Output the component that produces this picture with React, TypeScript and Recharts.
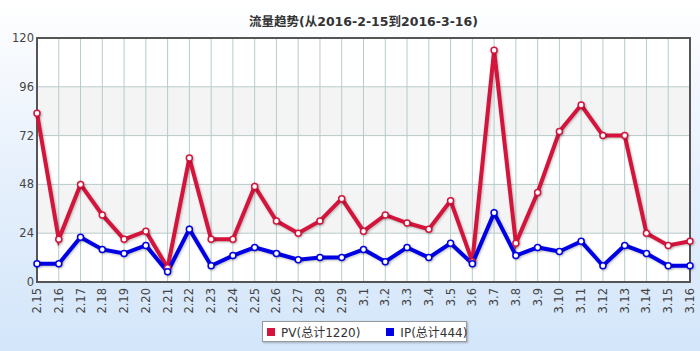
import { LineChart, Line, XAxis, YAxis, CartesianGrid, ReferenceArea, Legend } from "recharts";

const dates = [
  "2.15", "2.16", "2.17", "2.18", "2.19", "2.20", "2.21", "2.22", "2.23", "2.24",
  "2.25", "2.26", "2.27", "2.28", "2.29", "3.1", "3.2", "3.3", "3.4", "3.5",
  "3.6", "3.7", "3.8", "3.9", "3.10", "3.11", "3.12", "3.13", "3.14", "3.15", "3.16",
];
const pv = [83, 21, 48, 33, 21, 25, 7, 61, 21, 21, 47, 30, 24, 30, 41, 25, 33, 29, 26, 40, 10, 114, 19, 44, 74, 87, 72, 72, 24, 18, 20];
const ip = [9, 9, 22, 16, 14, 18, 5, 26, 8, 13, 17, 14, 11, 12, 12, 16, 10, 17, 12, 19, 9, 34, 13, 17, 15, 20, 8, 18, 14, 8, 8];
const yTicks = [0, 24, 48, 72, 96, 120];

const PV_COLOR = "#d5143c";
const IP_COLOR = "#0000e6";
const FONT = "'DejaVu Sans', 'Noto Sans CJK SC', sans-serif";

const rows = dates.map((d, i) => ({ date: d, pv: pv[i], ip: ip[i] }));
const pvTotal = pv.reduce((a, b) => a + b, 0);
const ipTotal = ip.reduce((a, b) => a + b, 0);

function DateTick({ x, y, payload }: any) {
  return (
    <text
      transform={`translate(${x + 4},${y + 6}) rotate(-90)`}
      textAnchor="end"
      fontSize={11.5}
      fill="#444"
      fontFamily={FONT}
    >
      {payload.value}
    </text>
  );
}

function LegendBox() {
  const item = (color: string, label: string) => (
    <span style={{ display: "inline-flex", alignItems: "center", marginRight: 26 }}>
      <span style={{ width: 8, height: 8, background: color, marginRight: 6, display: "inline-block" }} />
      {label}
    </span>
  );
  return (
    <div
      style={{
        width: 205,
        height: 21,
        boxSizing: "border-box",
        background: "#fff",
        border: "1px solid #999",
        boxShadow: "1px 1px 2px rgba(0,0,0,0.25)",
        fontFamily: FONT,
        fontSize: 12,
        color: "#333",
        display: "flex",
        alignItems: "center",
        paddingLeft: 4,
        whiteSpace: "nowrap",
      }}
    >
      {item(PV_COLOR, `PV(总计${pvTotal})`)}
      {item(IP_COLOR, `IP(总计${ipTotal})`)}
    </div>
  );
}

const shadow = { filter: "drop-shadow(1px 1px 1px rgba(0,0,0,0.25))" };

export default function App() {
  return (
    <div
      style={{
        position: "absolute",
        left: 0,
        top: 0,
        width: 700,
        height: 351,
        background: "linear-gradient(to bottom, #ffffff 0%, #f9fbfe 12%, #e6f0fc 50%, #d3e6fa 100%)",
      }}
    >
      <div
        style={{
          position: "absolute",
          left: 37,
          width: 653,
          top: 11,
          textAlign: "center",
          fontFamily: FONT,
          fontWeight: "bold",
          fontSize: 12.5,
          color: "#333",
        }}
      >
        流量趋势(从2016-2-15到2016-3-16)
      </div>
      <LineChart width={700} height={351} data={rows} margin={{ top: 38, right: 10, left: 0, bottom: 0 }}>
        <CartesianGrid stroke="#b7cbcb" horizontalFill={["#ffffff", "#f4f4f4"]} fillOpacity={1} />
        <XAxis
          dataKey="date"
          interval={0}
          height={69}
          axisLine={false}
          tickLine={false}
          tickSize={0}
          tickMargin={0}
          tick={<DateTick />}
        />
        <YAxis
          domain={[0, 120]}
          ticks={yTicks}
          width={37}
          axisLine={false}
          tickLine={false}
          tickSize={0}
          tickMargin={3}
          tick={{ fontSize: 11.5, fill: "#444", fontFamily: FONT }}
        />
        <ReferenceArea x1={dates[0]} x2={dates[dates.length - 1]} y1={0} y2={120} fill="none" stroke="#555" strokeWidth={2} />
        <Line
          dataKey="pv"
          stroke={PV_COLOR}
          strokeWidth={4}
          style={shadow}
          dot={{ r: 3, fill: "#fff", stroke: PV_COLOR, strokeWidth: 1.5 }}
          isAnimationActive={false}
        />
        <Line
          dataKey="ip"
          stroke={IP_COLOR}
          strokeWidth={4}
          style={shadow}
          dot={{ r: 3, fill: "#fff", stroke: IP_COLOR, strokeWidth: 1.5 }}
          isAnimationActive={false}
        />
        <Legend
          layout="horizontal"
          verticalAlign="middle"
          align="center"
          wrapperStyle={{ top: 321, left: 262, width: 205, height: 21 }}
          content={() => <LegendBox />}
        />
      </LineChart>
    </div>
  );
}
